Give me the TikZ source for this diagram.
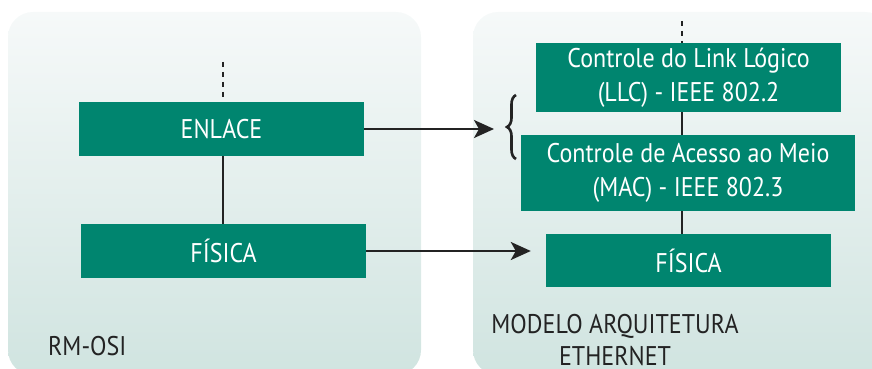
\documentclass[tikz,border=0pt]{standalone}
\usepackage{fontspec}
\setmainfont[FakeStretch=0.89]{PT Sans}
\usetikzlibrary{arrows.meta,decorations.pathreplacing}

\definecolor{layergreen}{RGB}{0,133,111}
\definecolor{paneltop}{RGB}{246,249,249}
\definecolor{panelbot}{RGB}{208,228,224}
\definecolor{inkgray}{RGB}{35,35,35}

\begin{document}
\begin{tikzpicture}[x=1pt,y=1pt,
    layer/.style 2 args={fill=layergreen, text=white, minimum width=#1, minimum height=#2, inner sep=0pt, align=center, font=\fontsize{27}{34}\selectfont},
    panel/.style={rounded corners=25pt, top color=paneltop, bottom color=panelbot},
    lbl/.style={text=inkgray, inner sep=0pt, font=\fontsize{27}{34}\selectfont},
    conn/.style={draw=inkgray, line width=2.4pt},
    dots/.style={draw=inkgray, line width=2.4pt, dash pattern=on 5pt off 5pt}]
    \useasboundingbox (0,0) rectangle (872,369);
    \begin{scope}
        \clip (0,0) rectangle (872,369);
        \shade[panel] (8,-6) rectangle (421,357);
        \shade[panel] (473,-6) rectangle (890,357);
    \end{scope}

    \node at (221.5,240) [layer={285pt}{54pt}] (enl) {ENLACE};
    \node at (223.5,118) [layer={285pt}{54pt}] (fisl) {FÍSICA};

    \node at (688.5,291.5) [layer={305pt}{69pt}] (llc) {Controle do Link Lógico\\(LLC) - IEEE 802.2};
    \node at (688,196) [layer={334pt}{76pt}] (mac) {Controle de Acesso ao Meio\\(MAC) - IEEE 802.3};
    \node at (688.5,108.5) [layer={285pt}{53pt}] (fisr) {FÍSICA};

    \node at (48,13) [lbl, anchor=base west] (osi) {RM-OSI};
    \node at (615,35) [lbl, anchor=base] (mod) {MODELO ARQUITETURA};
    \node at (615,3) [lbl, anchor=base] (eth) {ETHERNET};

    \coordinate (upl) at (223,307);
    \coordinate (upr) at (682,348);
    \coordinate (brc) at (494,240);

    \draw[dots] (upl) -- (upl |- enl.north);
    \draw[dots] (upr) -- (upr |- llc.north);
    \draw[conn] (enl.south -| upl) -- (fisl.north -| upl);
    \draw[conn] (llc.south -| upr) -- (mac.north -| upr);
    \draw[conn] (mac.south -| upr) -- (fisr.north -| upr);

    \draw[conn, -{Stealth[length=20pt, width=18pt, inset=5pt]}] (enl.east) -- (brc);
    \draw[conn, -{Stealth[length=20pt, width=18pt, inset=5pt]}] (fisl.east) -- ([xshift=-15pt]fisr.west |- fisl.east);
    \draw[draw=inkgray, line width=2.6pt, decorate, decoration={brace, amplitude=9pt}] (516,210) -- (516,274);
\end{tikzpicture}
\end{document}
